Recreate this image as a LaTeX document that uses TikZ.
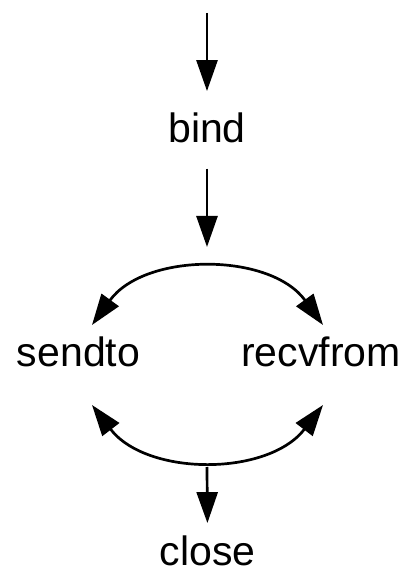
\documentclass[tikz,border=0pt]{standalone}
\usepackage{fontspec}
\setmainfont{Liberation Sans}
\usetikzlibrary{arrows.meta}

\begin{document}
\begin{tikzpicture}[x=1pt,y=1pt,
  lbl/.style={inner sep=0pt,anchor=base,font=\fontsize{41}{49}\selectfont},
  arr/.style={line width=2.7pt,-{Triangle[length=31pt,width=21pt]}},
  darr/.style={line width=2.7pt,{Triangle[length=31pt,width=21pt]}-{Triangle[length=31pt,width=21pt]}}]

\fill[white] (0,0) rectangle (403,573);
\useasboundingbox (0,0) rectangle (403,573);

\node[lbl] (bind)     at (207,430)   {bind};
\node[lbl] (sendto)   at (78.5,206)  {sendto};
\node[lbl] (recvfrom) at (321,206)   {recvfrom};
\node[lbl] (close)    at (207.5,8)   {close};

\coordinate (start) at (207,560);
\coordinate (uptop) at (207,307);
\coordinate (ul)    at (92,248);
\coordinate (ur)    at (323,248);
\coordinate (lowl)  at (92,168);
\coordinate (lowr)  at (323,168);
\coordinate (lowb)  at (207,106);

\draw [arr, shorten >=22pt] (start) -- (bind.north);
\draw [arr, shorten <=25pt, shorten >=19pt] (bind.south) -- (uptop);
\draw [darr] (ul) to[bend left=54, looseness=1] (ur);
\draw [darr] (lowl) to[bend right=52.5, looseness=1] (lowr);
\draw [arr, shorten >=12pt] (lowb) -- (close.north);
\end{tikzpicture}
\end{document}
